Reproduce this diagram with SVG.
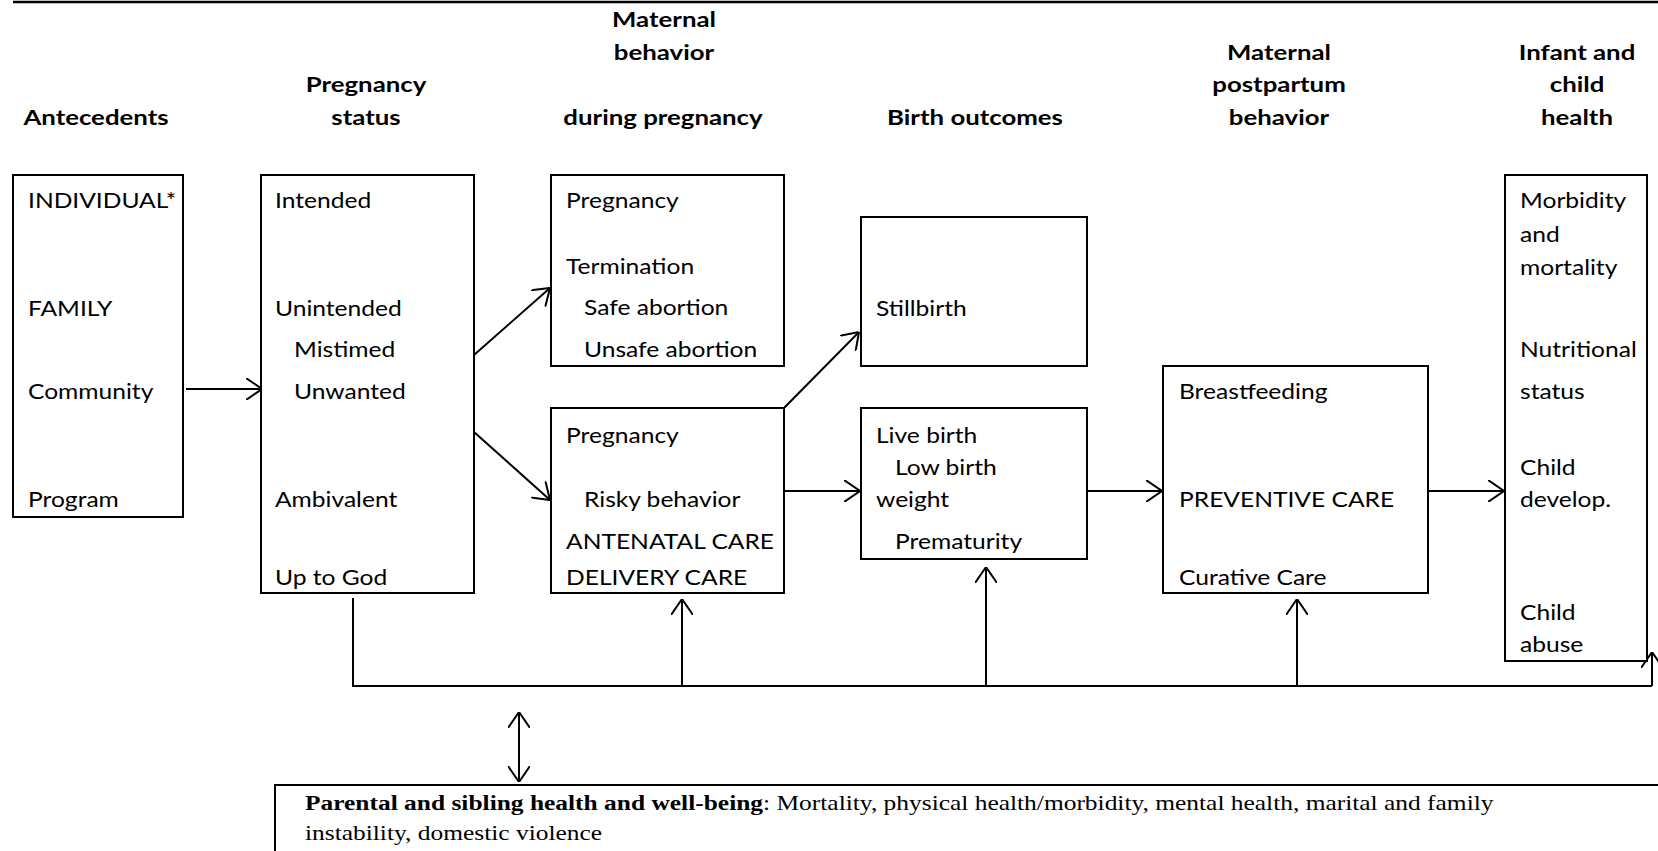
<svg xmlns="http://www.w3.org/2000/svg" width="1658" height="851" viewBox="0 0 1658 851">
<style>
.box{fill:#fff;stroke:#000;stroke-width:2}
.t{font-family:Lato,"Liberation Sans",sans-serif;font-size:20.5px;fill:#000}
.h{font-family:Lato,"Liberation Sans",sans-serif;font-size:21.5px;font-weight:bold;fill:#000;text-anchor:middle}
.s{font-family:"Liberation Serif","Times New Roman",serif;font-size:21.2px;fill:#000}
.c{fill:none;stroke:#000;stroke-width:2}
</style>
<defs>
<marker id="ah" viewBox="0 0 16 22" refX="16" refY="11" markerWidth="16" markerHeight="22" markerUnits="userSpaceOnUse" orient="auto-start-reverse">
<path d="M0,0 L16,11 L0,22" fill="none" stroke="#000" stroke-width="2"/>
</marker>
</defs>
<rect width="1658" height="851" fill="#fff"/>
<line x1="13" y1="2" x2="1658" y2="2" stroke="#000" stroke-width="2.5"/>

<g id="headers">
<text class="h" transform="translate(96,125) scale(1.2,1)">Antecedents</text>
<text class="h" transform="translate(366,92) scale(1.2,1)">Pregnancy</text>
<text class="h" transform="translate(366,125) scale(1.2,1)">status</text>
<text class="h" transform="translate(664,27) scale(1.2,1)">Maternal</text>
<text class="h" transform="translate(664,60) scale(1.2,1)">behavior</text>
<text class="h" transform="translate(663,125) scale(1.2,1)">during pregnancy</text>
<text class="h" transform="translate(975,125) scale(1.2,1)">Birth outcomes</text>
<text class="h" transform="translate(1279,60) scale(1.2,1)">Maternal</text>
<text class="h" transform="translate(1279,92) scale(1.2,1)">postpartum</text>
<text class="h" transform="translate(1279,125) scale(1.2,1)">behavior</text>
<text class="h" transform="translate(1577,60) scale(1.2,1)">Infant and</text>
<text class="h" transform="translate(1577,92) scale(1.2,1)">child</text>
<text class="h" transform="translate(1577,125) scale(1.2,1)">health</text>
</g>

<g id="connectors">
<path class="c" d="M186,389 H262" marker-end="url(#ah)"/>
<path class="c" d="M474,355 L550,288" marker-end="url(#ah)"/>
<path class="c" d="M474,432 L550,500" marker-end="url(#ah)"/>
<path class="c" d="M784,408 L859,332" marker-end="url(#ah)"/>
<path class="c" d="M784,491 H860" marker-end="url(#ah)"/>
<path class="c" d="M1087,491 H1162" marker-end="url(#ah)"/>
<path class="c" d="M1429,491 H1504" marker-end="url(#ah)"/>
<path class="c" d="M353,598 V686 H1652" stroke-width="2.5"/>
<path class="c" d="M682,686 V599" marker-end="url(#ah)"/>
<path class="c" d="M986,686 V567" marker-end="url(#ah)"/>
<path class="c" d="M1297,686 V599" marker-end="url(#ah)"/>
<path class="c" d="M1652,686 V652" marker-end="url(#ah)"/>
<path class="c" d="M519,712 V782" marker-start="url(#ah)" marker-end="url(#ah)"/>
</g>

<g id="n_antecedents">
<rect class="box" x="13" y="175" width="170" height="342"/>
<text class="t" transform="translate(28,208) scale(1.2,1)">INDIVIDUAL*</text>
<text class="t" transform="translate(28,316) scale(1.2,1)">FAMILY</text>
<text class="t" transform="translate(28,399) scale(1.2,1)">Community</text>
<text class="t" transform="translate(28,507) scale(1.2,1)">Program</text>
</g>

<g id="n_status">
<rect class="box" x="261" y="175" width="213" height="418"/>
<text class="t" transform="translate(275,208) scale(1.2,1)">Intended</text>
<text class="t" transform="translate(275,316) scale(1.2,1)">Unintended</text>
<text class="t" transform="translate(294,357) scale(1.2,1)">Mistimed</text>
<text class="t" transform="translate(294,399) scale(1.2,1)">Unwanted</text>
<text class="t" transform="translate(275,507) scale(1.2,1)">Ambivalent</text>
<text class="t" transform="translate(275,585) scale(1.2,1)">Up to God</text>
</g>

<g id="n_termination">
<rect class="box" x="551" y="175" width="233" height="191"/>
<text class="t" transform="translate(566,208) scale(1.2,1)">Pregnancy</text>
<text class="t" transform="translate(566,274) scale(1.2,1)">Termination</text>
<text class="t" transform="translate(584,315) scale(1.2,1)">Safe abortion</text>
<text class="t" transform="translate(584,357) scale(1.2,1)">Unsafe abortion</text>
</g>

<g id="n_behavior">
<rect class="box" x="551" y="408" width="233" height="185"/>
<text class="t" transform="translate(566,443) scale(1.2,1)">Pregnancy</text>
<text class="t" transform="translate(584,507) scale(1.2,1)">Risky behavior</text>
<text class="t" transform="translate(566,549) scale(1.2,1)">ANTENATAL CARE</text>
<text class="t" transform="translate(566,585) scale(1.2,1)">DELIVERY CARE</text>
</g>

<g id="n_stillbirth">
<rect class="box" x="861" y="217" width="226" height="149"/>
<text class="t" transform="translate(876,316) scale(1.2,1)">Stillbirth</text>
</g>

<g id="n_livebirth">
<rect class="box" x="861" y="408" width="226" height="151"/>
<text class="t" transform="translate(876,443) scale(1.2,1)">Live birth</text>
<text class="t" transform="translate(895,475) scale(1.2,1)">Low birth</text>
<text class="t" transform="translate(876,507) scale(1.2,1)">weight</text>
<text class="t" transform="translate(895,549) scale(1.2,1)">Prematurity</text>
</g>

<g id="n_postpartum">
<rect class="box" x="1163" y="366" width="265" height="227"/>
<text class="t" transform="translate(1179,399) scale(1.2,1)">Breastfeeding</text>
<text class="t" transform="translate(1179,507) scale(1.2,1)">PREVENTIVE CARE</text>
<text class="t" transform="translate(1179,585) scale(1.2,1)">Curative Care</text>
</g>

<g id="n_infant">
<rect class="box" x="1505" y="175" width="142" height="486"/>
<text class="t" transform="translate(1520,208) scale(1.2,1)">Morbidity</text>
<text class="t" transform="translate(1520,242) scale(1.2,1)">and</text>
<text class="t" transform="translate(1520,275) scale(1.2,1)">mortality</text>
<text class="t" transform="translate(1520,357) scale(1.2,1)">Nutritional</text>
<text class="t" transform="translate(1520,399) scale(1.2,1)">status</text>
<text class="t" transform="translate(1520,475) scale(1.2,1)">Child</text>
<text class="t" transform="translate(1520,507) scale(1.2,1)">develop.</text>
<text class="t" transform="translate(1520,620) scale(1.2,1)">Child</text>
<text class="t" transform="translate(1520,652) scale(1.2,1)">abuse</text>
</g>

<g id="n_parental">
<rect class="box" x="275" y="785" width="1400" height="100"/>
<text class="s" transform="translate(305,810) scale(1.2,1)"><tspan font-weight="bold">Parental and sibling health and well-being</tspan>: Mortality, physical health/morbidity, mental health, marital and family</text>
<text class="s" transform="translate(305,840) scale(1.2,1)">instability, domestic violence</text>
</g>
</svg>
